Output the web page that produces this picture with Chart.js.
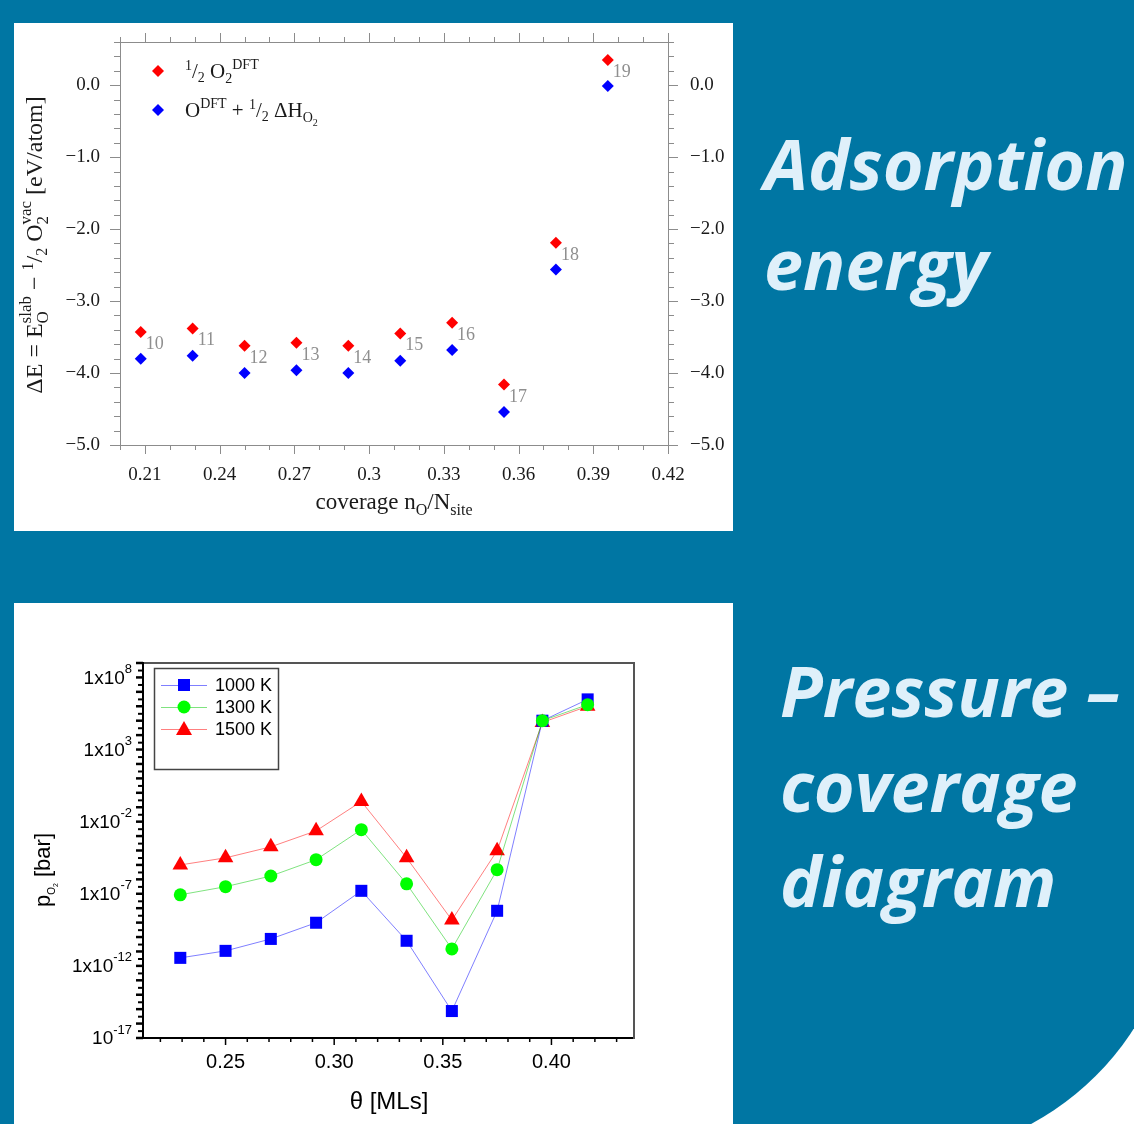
<!DOCTYPE html>
<html>
<head>
<meta charset="utf-8">
<script src="https://cdn.jsdelivr.net/npm/chart.js@4.4.1/dist/chart.umd.min.js"></script>
<style>
  body { margin: 0; width: 1134px; height: 1124px; overflow: hidden; background: #fff; position: relative; }
  #bg { position: absolute; left: 0; top: 0; width: 1177px; height: 1157px; background: #0076a3; border-bottom-right-radius: 277px; }
  .panel { position: absolute; background: #fff; }
  #p1 { left: 14px; top: 23px; width: 719px; height: 508px; }
  #p2 { left: 14px; top: 603px; width: 719px; height: 521px; }
  .title { position: absolute; color: #dff0fa; font-family: "Open Sans", sans-serif; font-style: italic; font-weight: bold; font-size: 70px; white-space: nowrap; }
  #t1 { left: 764px; top: 113px; line-height: 100px; }
  #t2 { left: 780px; top: 643px; line-height: 95px; }
</style>
</head>
<body>
<div id="bg"></div>
<div class="panel" id="p1"><canvas id="energyChart" width="719" height="508"></canvas></div>
<div class="panel" id="p2"><canvas id="pressureChart" width="719" height="521"></canvas></div>
<div class="title" id="t1">Adsorption<br>energy</div>
<div class="title" id="t2">Pressure –<br>coverage<br>diagram</div>
<script>
// ---- data: adsorption energy vs coverage ----
const structures = [10, 11, 12, 13, 14, 15, 16, 17, 18, 19];
const coverage1 = structures.map(n => n / 48);
const energyO2 = [-3.43, -3.38, -3.62, -3.58, -3.62, -3.45, -3.30, -4.16, -2.19, 0.35];
const energyOH = [-3.80, -3.76, -4.00, -3.96, -4.00, -3.83, -3.68, -4.54, -2.56, -0.01];
const energyTicks = [-5, -4, -3, -2, -1, 0];
const coverageTicks1 = [0.21, 0.24, 0.27, 0.3, 0.33, 0.36, 0.39, 0.42];

// ---- data: pressure vs coverage ----
const coverage2 = [11, 12, 13, 14, 15, 16, 17, 18, 19, 20].map(n => n / 48);
const p1000 = [3.6e-12, 1.1e-11, 7.4e-11, 9.8e-10, 1.6e-7, 5.5e-11, 7.4e-16, 6.6e-9, 1.0e5, 3.0e6];
const p1300 = [8.5e-8, 3.1e-7, 1.7e-6, 2.3e-5, 2.8e-3, 4.9e-7, 1.5e-11, 4.7e-6, 1.0e5, 1.3e6];
const p1500 = [1.0e-5, 3.1e-5, 1.8e-4, 2.3e-3, 0.25, 3.1e-5, 1.5e-9, 9.8e-5, 7.6e4, 1.0e6];
const pressureLabelExp = [8, 3, -2, -7, -12, -17];
const coverageTicks2 = [0.25, 0.30, 0.35, 0.40];

const SERIF = '"Liberation Serif", "Times New Roman", serif';
const SANS = '"Liberation Sans", Arial, sans-serif';

// draw text pieces with sub/superscripts: [text, size, dy, hold]
function drawRuns(ctx, x, y, runs, family, measureOnly) {
    let cx = x, held = 0;
    runs.forEach(r => {
        ctx.font = r[1] + 'px ' + family;
        const w = ctx.measureText(r[0]).width;
        if (!measureOnly) ctx.fillText(r[0], cx, y + r[2]);
        if (r[3]) { held = w; } else { cx += Math.max(w, held); held = 0; }
    });
    return cx - x;
}
function drawRunsCentered(ctx, cx, y, runs, family) {
    const w = drawRuns(ctx, 0, 0, runs, family, true);
    drawRuns(ctx, cx - w / 2, y, runs, family);
}
function minus(v) {
    return v < 0 ? '\u2212' + Math.abs(v).toFixed(1) : v.toFixed(1);
}
function line(ctx, x1, y1, x2, y2) {
    ctx.beginPath(); ctx.moveTo(x1, y1); ctx.lineTo(x2, y2); ctx.stroke();
}
// keep label padding from pushing the plot area down
function fixVertical(width) {
    return s => { s.width = width; s.paddingTop = 0; s.paddingBottom = 0; };
}

// ---------------- chart 1 ----------------
const energyExtras = {
    id: 'energyExtras',
    afterDraw(chart) {
        const ctx = chart.ctx;
        const { left, right, top, bottom } = chart.chartArea;
        const xs = chart.scales.x, ys = chart.scales.y;
        ctx.save();
        ctx.strokeStyle = '#8c8c8c';
        ctx.lineWidth = 1;
        for (let i = 0; i <= 28; i++) {
            const py = Math.round(ys.getPixelForValue(-5 + i * 0.2)) + 0.5;
            const len = i % 5 === 0 ? 10 : 6;
            line(ctx, left - len, py, left, py);
            line(ctx, right, py, right + len, py);
        }
        for (let i = 0; i <= 22; i++) {
            const px = Math.round(xs.getPixelForValue(0.2 + i * 0.01)) + 0.5;
            const len = (i - 1) % 3 === 0 ? 9 : 5;
            line(ctx, px, top - len, px, top);
            line(ctx, px, bottom, px, bottom + len);
        }
        // structure numbers next to the red points
        ctx.fillStyle = '#8f8f8f';
        ctx.font = '18px ' + SERIF;
        ctx.textBaseline = 'alphabetic';
        chart.getDatasetMeta(0).data.forEach((pt, i) => {
            ctx.fillText(String(structures[i]), pt.x + 5, pt.y + 17);
        });
        // legend
        const diamond = (x, y, c) => {
            ctx.fillStyle = c;
            ctx.beginPath();
            ctx.moveTo(x - 6, y); ctx.lineTo(x, y - 6); ctx.lineTo(x + 6, y); ctx.lineTo(x, y + 6);
            ctx.closePath(); ctx.fill();
        };
        diamond(144, 48, '#ff0000');
        diamond(144, 87, '#0000ff');
        ctx.fillStyle = '#1a1a1a';
        drawRuns(ctx, 171, 55, [['1', 14, -8], ['/', 21, 0], ['2', 14, 4], [' O', 21, 0], ['2', 14, 5], ['DFT', 14, -9]], SERIF);
        drawRuns(ctx, 171, 94, [['O', 21, 0], ['DFT', 14, -9], [' + ', 21, 0], ['1', 14, -8], ['/', 21, 0], ['2', 14, 4], [' \u0394H', 21, 0], ['O', 14, 5], ['2', 10, 9]], SERIF);
        // axis titles
        drawRunsCentered(ctx, 380, 486, [['coverage n', 23, 0], ['O', 16, 6], ['/N', 23, 0], ['site', 16, 6]], SERIF);
        ctx.translate(28, 222);
        ctx.rotate(-Math.PI / 2);
        drawRunsCentered(ctx, 0, 0, [['\u0394E = E', 24, 0], ['O', 17, 6, true], ['slab', 17, -11], [' \u2212 ', 24, 0], ['1', 16, -9], ['/', 24, 0], ['2', 16, 5], [' O', 24, 0], ['2', 17, 6, true], ['vac', 17, -11], [' [eV/atom]', 24, 0]], SERIF);
        ctx.restore();
    }
};

const serifTicks = { font: { family: SERIF, size: 19 }, color: '#1a1a1a' };

new Chart(document.getElementById('energyChart'), {
    type: 'scatter',
    data: {
        datasets: [
            { label: '1/2 O2 DFT', data: coverage1.map((x, i) => ({ x: x, y: energyO2[i] })),
              backgroundColor: '#ff0000', borderColor: '#ff0000', pointStyle: 'rectRot', pointRadius: 6, borderWidth: 0 },
            { label: 'O DFT + 1/2 dH O2', data: coverage1.map((x, i) => ({ x: x, y: energyOH[i] })),
              backgroundColor: '#0000ff', borderColor: '#0000ff', pointStyle: 'rectRot', pointRadius: 6, borderWidth: 0 }
        ]
    },
    options: {
        responsive: false,
        animation: false,
        devicePixelRatio: 1,
        layout: { padding: 0 },
        plugins: { legend: { display: false }, tooltip: { enabled: false } },
        scales: {
            x: {
                type: 'linear', position: 'bottom', min: 0.2, max: 0.42,
                afterBuildTicks: s => { s.ticks = coverageTicks1.map(v => ({ value: v })); },
                afterFit: s => { s.height = 86; },
                ticks: { ...serifTicks, padding: 19, maxRotation: 0, callback: v => String(Number(v.toFixed(2))) },
                grid: { display: false, drawTicks: false },
                border: { color: '#8c8c8c', width: 1 }
            },
            x2: {
                type: 'linear', position: 'top', min: 0.2, max: 0.42,
                afterFit: s => { s.height = 19; },
                ticks: { display: false },
                grid: { display: false, drawTicks: false },
                border: { color: '#8c8c8c', width: 1 }
            },
            y: {
                type: 'linear', position: 'left', min: -5, max: 0.6,
                afterBuildTicks: s => { s.ticks = energyTicks.map(v => ({ value: v })); },
                afterFit: fixVertical(106),
                ticks: { ...serifTicks, padding: 20, callback: v => minus(v) },
                grid: { display: false, drawTicks: false },
                border: { color: '#8c8c8c', width: 1 }
            },
            y2: {
                type: 'linear', position: 'right', min: -5, max: 0.6,
                afterBuildTicks: s => { s.ticks = energyTicks.map(v => ({ value: v })); },
                afterFit: fixVertical(65),
                ticks: { ...serifTicks, padding: 22, callback: v => minus(v) },
                grid: { display: false, drawTicks: false },
                border: { color: '#8c8c8c', width: 1 }
            }
        }
    },
    plugins: [energyExtras]
});

// ---------------- chart 2 ----------------
const pressureExtras = {
    id: 'pressureExtras',
    afterDraw(chart) {
        const ctx = chart.ctx;
        const { left, right, top, bottom } = chart.chartArea;
        const xs = chart.scales.x, ys = chart.scales.y;
        ctx.save();
        ctx.strokeStyle = '#000';
        // y ticks: every decade + one in between
        for (let e = -17; e <= 9; e++) {
            let py = ys.getPixelForValue(Math.pow(10, e));
            ctx.lineWidth = 2.5;
            line(ctx, left - 7, py, left, py);
            if (e < 9) {
                py = ys.getPixelForValue(3 * Math.pow(10, e));
                ctx.lineWidth = 2;
                line(ctx, left - 5, py, left, py);
            }
        }
        // x ticks
        ctx.lineWidth = 1.5;
        for (let i = 22; i <= 43; i++) {
            const px = xs.getPixelForValue(i / 100);
            const len = i % 5 === 0 ? 7 : 4;
            line(ctx, px, bottom, px, bottom + len);
        }
        // y tick labels with exponents
        ctx.fillStyle = '#000';
        ctx.textBaseline = 'middle';
        pressureLabelExp.forEach(e => {
            const py = ys.getPixelForValue(Math.pow(10, e));
            const base = e === -17 ? '10' : '1x10';
            const sup = String(e);
            ctx.font = '13px ' + SANS;
            const ws = ctx.measureText(sup).width;
            ctx.font = '19px ' + SANS;
            const wb = ctx.measureText(base).width;
            const x0 = 118 - ws - wb;
            ctx.fillText(base, x0, py + 1);
            ctx.font = '13px ' + SANS;
            ctx.fillText(sup, x0 + wb, py - 8);
        });
        // legend box
        ctx.textBaseline = 'alphabetic';
        ctx.strokeStyle = '#444';
        ctx.lineWidth = 1.5;
        ctx.strokeRect(140.5, 65.5, 124, 101);
        const entries = [
            { name: '1000 K', c: '#0000ff', l: 'rgba(0,0,255,0.5)', s: 'rect' },
            { name: '1300 K', c: '#00ff00', l: 'rgba(0,200,0,0.5)', s: 'circle' },
            { name: '1500 K', c: '#ff0000', l: 'rgba(255,0,0,0.5)', s: 'triangle' }
        ];
        entries.forEach((en, i) => {
            const y = 82 + i * 22;
            ctx.strokeStyle = en.l;
            ctx.lineWidth = 1;
            line(ctx, 147, y + 0.5, 193, y + 0.5);
            ctx.fillStyle = en.c;
            ctx.beginPath();
            if (en.s === 'rect') ctx.rect(164, y - 6, 12, 12);
            else if (en.s === 'circle') ctx.arc(170, y, 6.5, 0, Math.PI * 2);
            else { ctx.moveTo(170, y - 8); ctx.lineTo(178, y + 6); ctx.lineTo(162, y + 6); ctx.closePath(); }
            ctx.fill();
            ctx.fillStyle = '#000';
            ctx.font = '18px ' + SANS;
            ctx.fillText(en.name, 201, y + 6);
        });
        // axis titles
        ctx.font = '24px ' + SANS;
        ctx.textAlign = 'center';
        ctx.fillText('\u03b8 [MLs]', 375, 506);
        ctx.textAlign = 'left';
        ctx.translate(36, 267);
        ctx.rotate(-Math.PI / 2);
        drawRunsCentered(ctx, 0, 0, [['p', 22, 0], ['O', 10, 5], ['2', 7, 8], [' [bar]', 22, 0]], SANS);
        ctx.restore();
    }
};

const pts = arr => coverage2.map((x, i) => ({ x: x, y: arr[i] }));

new Chart(document.getElementById('pressureChart'), {
    type: 'line',
    data: {
        datasets: [
            { label: '1000 K', data: pts(p1000), order: 1, borderColor: 'rgba(0,0,255,0.5)', borderWidth: 1,
              backgroundColor: '#0000ff', pointStyle: 'rect', pointRadius: 8.5, pointBorderWidth: 0 },
            { label: '1300 K', data: pts(p1300), order: 0, borderColor: 'rgba(0,200,0,0.5)', borderWidth: 1,
              backgroundColor: '#00ff00', pointStyle: 'circle', pointRadius: 6.5, pointBorderWidth: 0 },
            { label: '1500 K', data: pts(p1500), order: 2, borderColor: 'rgba(255,0,0,0.5)', borderWidth: 1,
              backgroundColor: '#ff0000', pointStyle: 'triangle', pointRadius: 9, pointBorderWidth: 0 }
        ]
    },
    options: {
        responsive: false,
        animation: false,
        devicePixelRatio: 1,
        layout: { padding: 0 },
        plugins: { legend: { display: false }, tooltip: { enabled: false } },
        scales: {
            x: {
                type: 'linear', position: 'bottom', min: 0.212, max: 0.438,
                afterBuildTicks: s => { s.ticks = coverageTicks2.map(v => ({ value: v })); },
                afterFit: s => { s.height = 86; },
                ticks: { font: { family: SANS, size: 20 }, color: '#000', padding: 12, maxRotation: 0, callback: v => v.toFixed(2) },
                grid: { display: false, drawTicks: false },
                border: { color: '#000', width: 2 }
            },
            x2: {
                type: 'linear', position: 'top', min: 0.212, max: 0.438,
                afterFit: s => { s.height = 60; },
                ticks: { display: false },
                grid: { display: false, drawTicks: false },
                border: { color: '#555', width: 2 }
            },
            y: {
                type: 'logarithmic', position: 'left', min: 1e-17, max: 1e9,
                afterBuildTicks: s => { s.ticks = pressureLabelExp.map(e => ({ value: Math.pow(10, e) })); },
                afterFit: s => { s.width = 129; },
                ticks: { display: false },
                grid: { display: false, drawTicks: false },
                border: { color: '#000', width: 2 }
            },
            y2: {
                type: 'linear', position: 'right', min: 0, max: 1,
                afterFit: s => { s.width = 99; },
                ticks: { display: false },
                grid: { display: false, drawTicks: false },
                border: { color: '#555', width: 2 }
            }
        }
    },
    plugins: [pressureExtras]
});
</script>
</body>
</html>
